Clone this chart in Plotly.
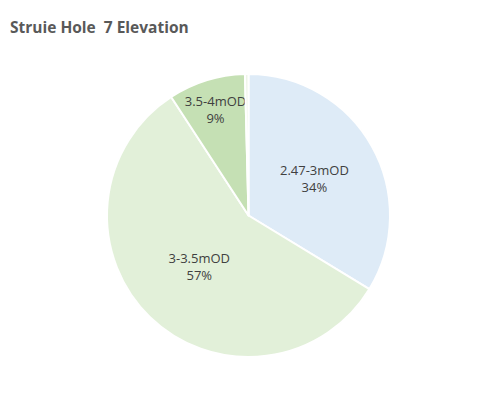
import plotly.graph_objects as go

categories = ["2.47-3mOD", "3-3.5mOD", "3.5-4mOD", "4-4.5mOD"]
values = [33.7, 57.1, 8.8, 0.4]
colors = ["#DEEBF7", "#E2F0D9", "#C5E0B4", "#EEF5E8"]

total = sum(values)
texts = [f"{c}<br>{round(v / total * 100)}%" if v / total > 0.02 else "" for c, v in zip(categories, values)]

fig = go.Figure(go.Pie(
    labels=categories,
    values=values,
    sort=False,
    direction="clockwise",
    rotation=0,
    marker=dict(colors=colors, line=dict(color="white", width=2)),
    text=texts,
    textinfo="text",
    textposition="inside",
    insidetextorientation="horizontal",
    textfont=dict(family="Open Sans", size=13, color="#404040"),
    showlegend=False,
    hoverinfo="label+percent",
))

fig.update_layout(
    width=497, height=395,
    margin=dict(l=0, r=16, t=66, b=46),
    paper_bgcolor="white",
    uniformtext=dict(minsize=13, mode="show"),
    title=dict(text="<b>Struie Hole  7 Elevation</b>", x=0.004, xanchor="left", y=0.95, yanchor="middle",
               font=dict(family="Open Sans", size=15.5, color="#595959")),
)

fig.write_html("out.html")
